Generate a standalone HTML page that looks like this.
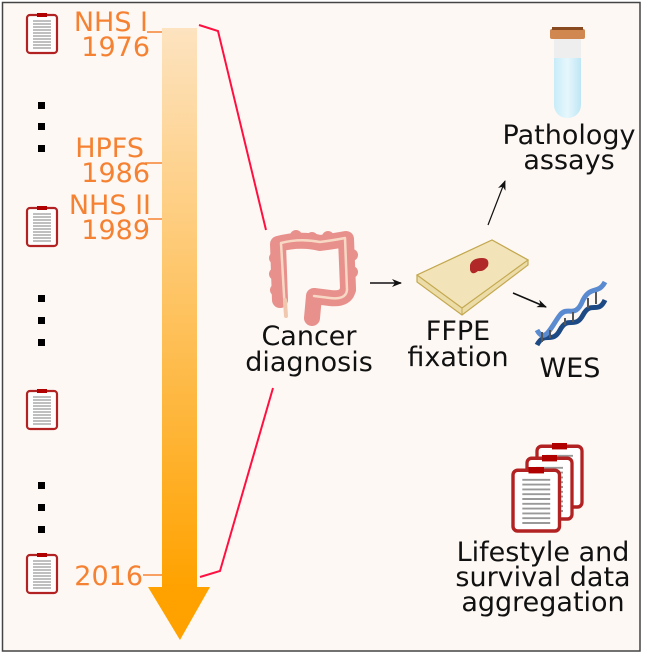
<!DOCTYPE html>
<html><head><meta charset="utf-8"><style>
html,body{margin:0;padding:0;background:#fff;}
svg{display:block;font-family:"DejaVu Sans","Liberation Sans",sans-serif;}
</style></head><body>
<svg width="660" height="672" viewBox="0 0 660 672" xmlns="http://www.w3.org/2000/svg">
<defs>
<linearGradient id="bar" x1="0" y1="0" x2="0" y2="1">
<stop offset="0" stop-color="#fde3c0"/><stop offset="1" stop-color="#ffa200"/>
</linearGradient>
<linearGradient id="tube" x1="0" y1="0" x2="1" y2="0">
<stop offset="0" stop-color="#c8ecf8"/><stop offset="0.5" stop-color="#e6f7fc"/><stop offset="1" stop-color="#bfe6f5"/>
</linearGradient>
<g id="clip">
<rect x="0" y="2" width="30" height="38" rx="3" fill="#fff" stroke="#b22222" stroke-width="2.2"/>
<rect x="10" y="0" width="10" height="4" fill="#b00000"/>
<g stroke="#999" stroke-width="1.2">
<line x1="6" y1="8" x2="24" y2="8"/><line x1="6" y1="11" x2="24" y2="11"/><line x1="6" y1="14" x2="24" y2="14"/><line x1="6" y1="17" x2="24" y2="17"/><line x1="6" y1="20" x2="24" y2="20"/><line x1="6" y1="23" x2="24" y2="23"/><line x1="6" y1="26" x2="24" y2="26"/><line x1="6" y1="29" x2="24" y2="29"/><line x1="6" y1="32" x2="24" y2="32"/><line x1="6" y1="35" x2="24" y2="35"/>
</g>
</g>
<marker id="ah" markerWidth="10" markerHeight="8" refX="9" refY="4" orient="auto" markerUnits="userSpaceOnUse">
<path d="M0,0 L10,4 L0,8 L3,4 Z" fill="#111"/>
</marker>
</defs>
<rect x="2.5" y="2.5" width="637.5" height="648.5" fill="#fdf8f4" stroke="#444" stroke-width="1.5"/>

<rect x="162" y="28" width="35" height="560" fill="url(#bar)"/>
<polygon points="148,587 210,587 180,640" fill="#ffa200"/>

<use href="#clip" x="27" y="13"/>
<use href="#clip" x="27" y="206"/>
<use href="#clip" x="27" y="389"/>
<use href="#clip" x="27" y="553"/>

<g fill="#000">
<rect x="38" y="102" width="7" height="7"/><rect x="38" y="123" width="7" height="7"/><rect x="38" y="145" width="7" height="7"/>
<rect x="38" y="295" width="7" height="7"/><rect x="38" y="317" width="7" height="7"/><rect x="38" y="339" width="7" height="7"/>
<rect x="38" y="482" width="7" height="7"/><rect x="38" y="504" width="7" height="7"/><rect x="38" y="526" width="7" height="7"/>
</g>

<g fill="#f58232" font-size="27" text-anchor="end">
<text x="148" y="31">NHS I</text><text x="150" y="56">1976</text>
<text x="144" y="157">HPFS</text><text x="150" y="182">1986</text>
<text x="151" y="214">NHS II</text><text x="150" y="239">1989</text>
<text x="143" y="585">2016</text>
</g>
<g stroke="#f58232" stroke-width="1.5">
<line x1="147" y1="32" x2="162" y2="32"/>
<line x1="145" y1="163" x2="162" y2="163"/>
<line x1="148" y1="219" x2="162" y2="219"/>
<line x1="143" y1="575" x2="162" y2="575"/>
</g>

<polyline points="199,25 218,31 266,230" fill="none" stroke="#ff1040" stroke-width="2"/>
<polyline points="273,388 220,571 200,577" fill="none" stroke="#ff1040" stroke-width="2"/>

<!-- colon -->
<g fill="none" stroke-linecap="round" stroke-linejoin="round">
<path d="M280,300 L278,244 Q300,238 320,243 Q335,241 346,239 L348,288 Q347,300 330,298 L314,296 L312,318" stroke="#e8908c" stroke-width="16"/>
<g fill="#e8908c">
<circle cx="275" cy="258" r="6"/><circle cx="275" cy="274" r="6"/><circle cx="276" cy="290" r="6"/>
<circle cx="352" cy="255" r="6"/><circle cx="352" cy="272" r="6"/><circle cx="350" cy="290" r="6"/>
<circle cx="296" cy="236" r="6"/><circle cx="312" cy="238" r="6"/><circle cx="328" cy="237" r="6"/>
<circle cx="312" cy="312" r="6"/>
</g>
<path d="M285,312 L281,243 Q300,238 320,242 Q335,240 345,238 L347,290 Q346,300 330,298 L314,296" stroke="#f7d8c4" stroke-width="2.5"/>
<path d="M285,300 L286,316" stroke="#f0c8b0" stroke-width="4"/>
</g>
<text x="309" y="345" font-size="27" text-anchor="middle" fill="#111">Cancer</text>
<text x="309" y="371" font-size="27" text-anchor="middle" fill="#111">diagnosis</text>

<line x1="370" y1="283" x2="401" y2="283" stroke="#111" stroke-width="1.5" marker-end="url(#ah)"/>

<polygon points="417,275 492,240 528,260 528,265 462,315 417,282" fill="#ecdca8" stroke="#c4a850" stroke-width="1.2"/>
<polygon points="417,275 492,240 528,260 462,308" fill="#f2e4b8" stroke="#c4a850" stroke-width="1.2"/>
<line x1="462" y1="308" x2="462" y2="315" stroke="#c4a850"/>
<path d="M470,265 Q472,258 482,258 Q490,258 488,266 Q484,272 478,271 Q472,276 470,270 Z" fill="#b02828"/>
<text x="458" y="340" font-size="27" text-anchor="middle" fill="#111">FFPE</text>
<text x="458" y="366" font-size="27" text-anchor="middle" fill="#111">fixation</text>

<line x1="513" y1="293" x2="546" y2="307" stroke="#111" stroke-width="1.5" marker-end="url(#ah)"/>

<g fill="none">
<path d="M537,345 C545,330 552,345 560,330 C568,315 575,330 583,315 C591,300 598,315 605,300" stroke="#1d4a85" stroke-width="5"/>
<path d="M537,330 C545,345 552,325 560,315 C568,305 575,320 583,300 C591,285 598,295 605,282" stroke="#5a8ad0" stroke-width="5"/>
<g stroke="#555" stroke-width="2">
<line x1="542" y1="332" x2="542" y2="342"/><line x1="550" y1="330" x2="550" y2="338"/><line x1="565" y1="318" x2="565" y2="325"/><line x1="573" y1="312" x2="573" y2="322"/><line x1="588" y1="298" x2="588" y2="308"/><line x1="596" y1="292" x2="596" y2="304"/>
</g>
</g>
<text x="570" y="377" font-size="27" text-anchor="middle" fill="#111">WES</text>

<line x1="488" y1="225" x2="505" y2="181" stroke="#111" stroke-width="1.2" marker-end="url(#ah)"/>

<rect x="554" y="38" width="27" height="80" rx="13" fill="url(#tube)"/>
<rect x="554" y="38" width="27" height="20" fill="#eeeeee"/>
<rect x="550" y="29" width="35" height="10" rx="2" fill="#d08850"/>
<rect x="552" y="27" width="31" height="3" fill="#8a4a20"/>
<text x="569" y="144" font-size="27" text-anchor="middle" fill="#111">Pathology</text>
<text x="569" y="169" font-size="27" text-anchor="middle" fill="#111">assays</text>

<use href="#clip" transform="translate(537,443) scale(1.5,1.6)"/>
<use href="#clip" transform="translate(527,455) scale(1.5,1.6)"/>
<use href="#clip" transform="translate(513,467) scale(1.55,1.6)"/>
<text x="543" y="561" font-size="27" text-anchor="middle" fill="#111">Lifestyle and</text>
<text x="543" y="586" font-size="27" text-anchor="middle" fill="#111">survival data</text>
<text x="543" y="611" font-size="27" text-anchor="middle" fill="#111">aggregation</text>
</svg>
</body></html>
